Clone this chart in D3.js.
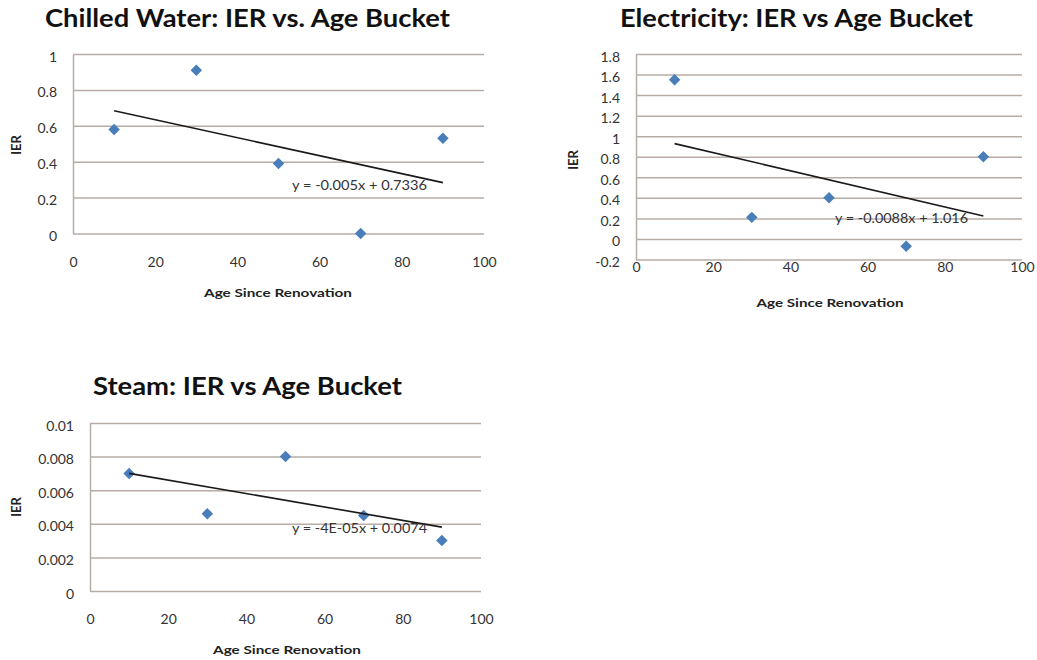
<!DOCTYPE html>
<html>
<head>
<meta charset="utf-8">
<script src="https://cdn.jsdelivr.net/npm/d3@7"></script>
<style>
  html, body { margin: 0; padding: 0; background: #fff; }
  svg { display: block; font-family: Lato, "Open Sans", sans-serif; }
</style>
</head>
<body>
<svg id="chart" width="1037" height="660"></svg>
<script>
// Age buckets (years since renovation) shared by all three panels
const ages = [10, 30, 50, 70, 90];

// IER per age bucket, one series per utility
const chilledIER = [0.58, 0.91, 0.39, 0.0, 0.53];
const electricityIER = [1.55, 0.21, 0.40, -0.07, 0.80];
const steamIER = [0.0070, 0.0046, 0.0080, 0.0045, 0.0030];

// Linear trend lines (slope, intercept) and their equation labels
const trendSlopes = [-0.005, -0.0088, -0.00004];
const trendIntercepts = [0.7336, 1.016, 0.0074];
const trendLabels = ["y = -0.005x + 0.7336", "y = -0.0088x + 1.016", "y = -4E-05x + 0.0074"];

const panelTitles = [
  "Chilled Water: IER vs. Age Bucket",
  "Electricity: IER vs Age Bucket",
  "Steam: IER vs Age Bucket"
];

// Axis ticks
const xTicks = [0, 20, 40, 60, 80, 100];
const chilledTicks = [0, 0.2, 0.4, 0.6, 0.8, 1];
const electricityTicks = [-0.2, 0, 0.2, 0.4, 0.6, 0.8, 1, 1.2, 1.4, 1.6, 1.8];
const steamTicks = [0, 0.002, 0.004, 0.006, 0.008, 0.01];

const xAxisTitle = "Age Since Renovation";
const yAxisTitle = "IER";

// Panel geometry
const panels = [
  { series: chilledIER, ticks: chilledTicks,
    left: 73, right: 484, top: 54, bottom: 233.5,
    title: { x: 45, w: 405, y: 27 },
    xLabelGap: 29, xTitle: { x: 278, y: 297, w: 148 }, yTitle: { x: 16, y: 145 },
    eq: { x: 292, w: 135, y: 190 } },
  { series: electricityIER, ticks: electricityTicks,
    left: 636, right: 1022, top: 54, bottom: 259.5,
    title: { x: 620, w: 353, y: 27 },
    xLabelGap: 8, xTitle: { x: 830, y: 307, w: 147 }, yTitle: { x: 573, y: 160 },
    eq: { x: 835, w: 133, y: 223 } },
  { series: steamIER, ticks: steamTicks,
    left: 90, right: 481, top: 423, bottom: 591,
    title: { x: 93, w: 309, y: 395 },
    xLabelGap: 28, xTitle: { x: 287, y: 654, w: 148 }, yTitle: { x: 16, y: 507 },
    eq: { x: 292, w: 135, y: 533 } }
];

const gridColor = "#b7aca6";
const markerColor = "#4a7ebb";
const tickColor = "#333";

// Square-on-point diamond, as used by spreadsheet scatter markers
const diamond = {
  draw(ctx, size) {
    const r = Math.sqrt(size / 2);
    ctx.moveTo(0, -r); ctx.lineTo(r, 0); ctx.lineTo(0, r); ctx.lineTo(-r, 0); ctx.closePath();
  }
};

const svg = d3.select("#chart");
const fmt = v => String(+v.toFixed(4));

function fitText(sel, width) {
  sel.attr("textLength", width).attr("lengthAdjust", "spacingAndGlyphs");
}

panels.forEach((p, i) => {
  const yDomain = d3.extent(p.ticks);
  const x = d3.scaleLinear().domain([0, 100]).range([p.left, p.right]);
  const y = d3.scaleLinear().domain(yDomain).range([p.bottom, p.top]);
  const g = svg.append("g");

  // Title
  g.append("text")
    .attr("x", p.title.x).attr("y", p.title.y)
    .attr("font-size", 24).attr("font-weight", 700).attr("fill", "#111")
    .text(panelTitles[i])
    .call(fitText, p.title.w);

  // Y axis with horizontal gridlines
  const yAxis = d3.axisLeft(y).tickValues(p.ticks).tickFormat(fmt)
    .tickSize(-(p.right - p.left)).tickSizeOuter(0).tickPadding(16);
  const ya = g.append("g").attr("transform", `translate(${p.left},0)`).call(yAxis);
  ya.select(".domain").attr("stroke", gridColor).attr("stroke-width", 1.5);
  ya.selectAll(".tick line").attr("stroke", gridColor).attr("stroke-width", 1.5);
  ya.selectAll(".tick text").attr("font-size", 14).attr("fill", tickColor)
    .attr("font-family", "Lato, sans-serif").attr("dy", "0.5em");

  // X axis labels
  const xAxis = d3.axisBottom(x).tickValues(xTicks).tickSize(0);
  const xa = g.append("g").attr("transform", `translate(0,${p.bottom})`).call(xAxis);
  xa.select(".domain").remove();
  xa.selectAll(".tick text").attr("font-size", 14).attr("fill", tickColor)
    .attr("font-family", "Lato, sans-serif")
    .attr("y", p.xLabelGap).attr("dy", "0.35em");

  // Axis titles
  g.append("text")
    .attr("x", p.xTitle.x).attr("y", p.xTitle.y)
    .attr("text-anchor", "middle").attr("font-size", 12).attr("font-weight", 700).attr("fill", "#222")
    .text(xAxisTitle)
    .call(fitText, p.xTitle.w);
  g.append("text")
    .attr("transform", `translate(${p.yTitle.x},${p.yTitle.y}) rotate(-90)`)
    .attr("text-anchor", "middle").attr("dy", "0.35em")
    .attr("font-size", 13).attr("font-weight", 700).attr("fill", "#222")
    .text(yAxisTitle);

  // Data points
  const pts = ages.map((a, k) => ({ a, v: p.series[k] }));
  g.selectAll("path.pt").data(pts).join("path")
    .attr("class", "pt")
    .attr("transform", d => `translate(${x(d.a)},${y(d.v)})`)
    .attr("d", d3.symbol().type(diamond).size(66))
    .attr("fill", markerColor);

  // Trend line over the data's x range
  const xr = d3.extent(ages);
  const trend = xr.map(a => [a, trendSlopes[i] * a + trendIntercepts[i]]);
  g.append("path")
    .attr("d", d3.line().x(d => x(d[0])).y(d => y(d[1]))(trend))
    .attr("fill", "none").attr("stroke", "#1a1a1a").attr("stroke-width", 1.6);

  // Equation label
  g.append("text")
    .attr("x", p.eq.x).attr("y", p.eq.y)
    .attr("font-size", 13).attr("fill", "#333")
    .text(trendLabels[i])
    .call(fitText, p.eq.w);
});
</script>
</body>
</html>
